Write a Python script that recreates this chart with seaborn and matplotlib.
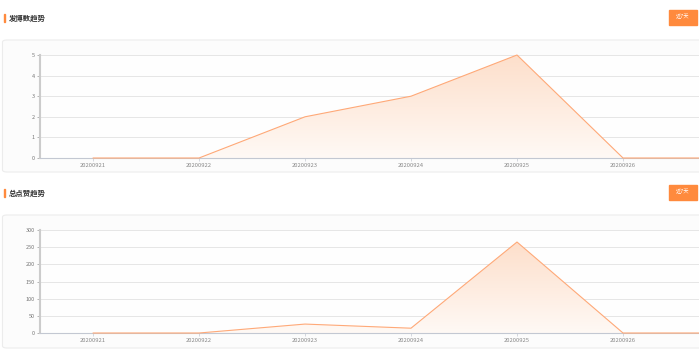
import numpy as np
import pandas as pd
import matplotlib
matplotlib.use("Agg")
import matplotlib.pyplot as plt
import seaborn as sns
from matplotlib.patches import FancyBboxPatch, Rectangle

dates = ["20200921", "20200922", "20200923", "20200924", "20200925", "20200926", "20200927"]
posts = [0, 0, 2, 3, 5, 0, 0]
likes = [0, 0, 26, 14, 265, 0, 0]
titles = ["发博数趋势", "总点赞趋势"]
button_text = "近7天"
post_ticks = [0, 1, 2, 3, 4, 5]
like_ticks = [0, 50, 100, 150, 200, 250, 300]

sns.set_style("white")
plt.rcParams["font.family"] = ["Noto Sans CJK SC", "DejaVu Sans"]

W, H = 699, 360
fig = plt.figure(figsize=(W / 100, H / 100), dpi=100)
fig.patch.set_facecolor("white")

LINE = "#ffa978"
ORANGE = "#ff8a3d"
VISIBLE = 6  # categories shown before the right edge crops the chart


def px_axes(x0, y0, x1, y1):
    return fig.add_axes([x0 / W, 1 - y1 / H, (x1 - x0) / W, (y1 - y0) / H])


def decorate(title, title_y, card_top, card_bot):
    # title with orange bar
    fig.patches.append(Rectangle((4 / W, 1 - (title_y + 4) / H), 1.4 / W, 8 / H,
                                 transform=fig.transFigure, color=ORANGE, zorder=2))
    fig.text(8.5 / W, 1 - title_y / H, title, fontsize=5.3, color="#333333",
             va="center", ha="left", fontweight="bold")
    # button
    by = title_y - 1
    fig.patches.append(Rectangle((669 / W, 1 - (by + 7.5) / H), 28 / W, 15 / H,
                                 transform=fig.transFigure, color=ORANGE, zorder=2))
    fig.text(683 / W, 1 - by / H, button_text, fontsize=3.8, color="white",
             ha="center", va="center")
    # card
    fig.patches.append(FancyBboxPatch((2.5 / W, 1 - card_bot / H), 720 / W,
                                      (card_bot - card_top) / H,
                                      boxstyle="round,pad=0,rounding_size=0.006",
                                      transform=fig.transFigure, facecolor="#fcfcfc",
                                      edgecolor="#ececec", linewidth=0.8, zorder=-5))


def panel(ax, values, ticks):
    df = pd.DataFrame({"x": np.arange(len(dates)), "y": values})
    ax.set_facecolor("#fefefe")
    ymax = ticks[-1]
    # gradient fill under the line
    poly = ax.fill_between(df["x"], df["y"], 0, color="none", lw=0)
    grad = np.linspace(0, 1, 256).reshape(-1, 1)
    cmap = matplotlib.colors.LinearSegmentedColormap.from_list(
        "g", ["#fff9f5", "#fddfcb"])
    im = ax.imshow(grad, extent=[-0.5, 6.5, 0, max(values)], origin="lower",
                   aspect="auto", cmap=cmap, zorder=1)
    im.set_clip_path(poly.get_paths()[0], transform=ax.transData)
    sns.lineplot(data=df, x="x", y="y", ax=ax, color=LINE, linewidth=0.8, zorder=4)
    for ln in ax.lines:
        ln.set_clip_on(False)
    ax.set_xlim(-0.5, -0.5 + 659 / 106)
    ax.set_ylim(0, ymax)
    ax.set_yticks(ticks)
    ax.set_yticklabels([str(t) for t in ticks])
    ax.set_xticks(np.arange(VISIBLE))
    ax.set_xticklabels(dates[:VISIBLE])
    ax.grid(axis="y", color="#e6e6e6", linewidth=0.7)
    ax.set_axisbelow(True)
    for s in ["top", "right"]:
        ax.spines[s].set_visible(False)
    ax.spines["left"].set_color("#cccccc")
    ax.spines["left"].set_linewidth(1.5)
    ax.spines["bottom"].set_color("#c3c8d2")
    ax.spines["bottom"].set_linewidth(0.8)
    ax.tick_params(axis="y", length=2, width=0.5, color="#999999", labelsize=4,
                   labelcolor="#777777", pad=1.5, left=True)
    ax.tick_params(axis="x", length=2, width=0.5, color="#c3c8d2", labelsize=4.2,
                   labelcolor="#888888", pad=1.5, bottom=True)
    ax.set_xlabel("")
    ax.set_ylabel("")


decorate(titles[0], 18, 40, 172)
decorate(titles[1], 193, 215, 348)

ax1 = px_axes(40, 55, 699, 158)
panel(ax1, posts, post_ticks)
ax2 = px_axes(40, 230, 699, 333)
panel(ax2, likes, like_ticks)

fig.savefig("out.png", dpi=100)
